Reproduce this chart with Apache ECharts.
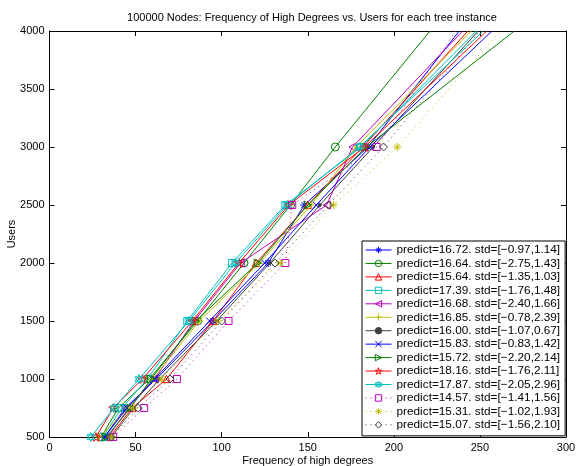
<!DOCTYPE html>
<html><head><meta charset="utf-8">
<script src="https://cdn.jsdelivr.net/npm/echarts@6/dist/echarts.min.js"></script>
<style>html,body{margin:0;padding:0;background:#fff}#c{width:576px;height:466px}</style>
</head><body><div id="c"></div>
<script>
// Users levels (y values); last level is where lines leave the plot
const users = [500, 750, 1000, 1500, 2000, 2500, 3000, 4000];
const xTicks = [0, 50, 100, 150, 200, 250, 300];
const yTicks = [500, 1000, 1500, 2000, 2500, 3000, 3500, 4000];
const names = [
  "predict=16.72. std=[\u22120.97,1.14]",
  "predict=16.64. std=[\u22122.75,1.43]",
  "predict=15.64. std=[\u22121.35,1.03]",
  "predict=17.39. std=[\u22121.76,1.48]",
  "predict=16.68. std=[\u22122.40,1.66]",
  "predict=16.85. std=[\u22120.78,2.39]",
  "predict=16.00. std=[\u22121.07,0.67]",
  "predict=15.83. std=[\u22120.83,1.42]",
  "predict=15.72. std=[\u22122.20,2.14]",
  "predict=18.16. std=[\u22121.76,2.11]",
  "predict=17.87. std=[\u22122.05,2.96]",
  "predict=14.57. std=[\u22121.41,1.56]",
  "predict=15.31. std=[\u22121.02,1.93]",
  "predict=15.07. std=[\u22121.56,2.10]"
];
// Frequency of high degrees for each series at each users level
const s1  = [32, 44, 62, 95, 127, 148, 185, 238];
const s2  = [30, 40, 58, 86, 113, 140, 166, 221];
const s3  = [35, 48, 68, 95, 120, 150, 182, 243];
const s4  = [31, 42, 57, 80, 106, 137, 181, 248];
const s5  = [34, 46, 61, 84, 111, 161, 176, 240];
const s6  = [29, 46, 60, 87, 122, 152, 178, 245];
const s7  = [36, 49, 64, 97, 128, 157, 188, 249];
const s8  = [32, 45, 61, 93, 125, 155, 186, 257];
const s9  = [33, 47, 59, 85, 121, 150, 184, 270];
const s10 = [27, 37, 54, 83, 110, 139, 183, 254];
const s11 = [24, 37.5, 52, 81, 108, 138, 180, 252];
const s12 = [37, 55, 74, 104, 137, 141, 190, 236];
const s13 = [36, 49, 65, 98, 134, 165, 202, 262];
const s14 = [36, 51.5, 70, 100, 131, 162, 194, 250];
const allSeries = [s1,s2,s3,s4,s5,s6,s7,s8,s9,s10,s11,s12,s13,s14];

const C = {b:'#0000ff', g:'#008000', r:'#ff0000', c:'#00bfbf', m:'#bf00bf', y:'#bfbf00', k:'#404040'};
function star(n, ro, ri){
  let p = '';
  for (let i = 0; i < 2*n; i++) {
    const a = -Math.PI/2 + i*Math.PI/n;
    const r = i % 2 ? ri : ro;
    p += (i ? 'L' : 'M') + (r*Math.cos(a)).toFixed(2) + ',' + (r*Math.sin(a)).toFixed(2);
  }
  return p + 'Z';
}
const P = {
  ast: 'path://M0,-5L0,5M-5,0L5,0M-3.5,-3.5L3.5,3.5M-3.5,3.5L3.5,-3.5',
  o: 'path://M5,0A5,5 0 1,1 -5,0A5,5 0 1,1 5,0Z',
  tri: 'path://M0,-5L5,4L-5,4Z',
  sq: 'path://M-4,-4L4,-4L4,4L-4,4Z',
  lt: 'path://M-5,0L4,-5L4,5Z',
  plus: 'path://M0,-5L0,5M-5,0L5,0',
  dot: 'circle',
  x: 'path://M-4,-4L4,4M-4,4L4,-4',
  rt: 'path://M5,0L-4,-5L-4,5Z',
  pent: 'path://' + star(5, 5, 2),
  hex: 'path://M0,-5L4.33,2.5L-4.33,2.5ZM0,5L4.33,-2.5L-4.33,-2.5Z',
  dia: 'path://M0,-5L5,0L0,5L-5,0Z'
};
const styles = [
  [C.b,'ast','solid',8],[C.g,'o','solid',8],[C.r,'tri','solid',8],[C.c,'sq','solid',7],
  [C.m,'lt','solid',8],[C.y,'plus','solid',8],[C.k,'dot','solid',3],[C.b,'x','solid',7],
  [C.g,'rt','solid',8],[C.r,'pent','solid',9],[C.c,'hex','solid',9],[C.m,'sq','dotted',7],
  [C.y,'ast','dotted',8],[C.k,'dia','dotted',8]
];

const series = allSeries.map((arr, i) => {
  const [col, sym, lt, sz] = styles[i];
  const filled = sym === 'dot';
  return {
    type: 'line', name: names[i],
    data: arr.map((x, j) => j === users.length - 1 ? {value:[x, users[j]], symbol:'none'} : [x, users[j]]),
    symbol: P[sym], symbolSize: sz, symbolKeepAspect: true, showAllSymbol: true,
    clip: true, animation: false, z: 2 + i,
    lineStyle: {color: col, width: 1, type: lt === 'dotted' ? [1, 4] : 'solid'},
    itemStyle: {color: filled ? col : 'none', borderColor: col, borderWidth: 1},
    emphasis: {disabled: true}
  };
});

const legendData = names.map((n, i) => {
  const [col, sym, lt] = styles[i];
  const filled = sym === 'dot';
  return {
    name: n,
    itemStyle: {color: filled ? col : 'none', borderColor: col, borderWidth: 1},
    lineStyle: {color: col, width: 1, type: lt === 'dotted' ? [1, 4] : 'solid'}
  };
});

const font = 'Liberation Sans, Arial, sans-serif';
const chart = echarts.init(document.getElementById('c'), null, {renderer: 'canvas'});
const axBase = {
  axisLine: {show: true, onZero: false, lineStyle: {color: '#000', width: 1}},
  axisTick: {show: true, inside: true, length: 5, lineStyle: {color: '#000'}},
  splitLine: {show: false}
};
const plain = v => String(v);
chart.setOption({
  backgroundColor: '#fff',
  animation: false,
  title: {
    text: '100000 Nodes: Frequency of High Degrees vs. Users for each tree instance',
    left: 307, top: 7, textAlign: 'center',
    textStyle: {fontFamily: font, fontSize: 11, fontWeight: 'normal', color: '#000'}
  },
  grid: {left: 49.5, right: 10, top: 31, bottom: 29, containLabel: false, outerBoundsMode: 'none'},
  xAxis: [
    Object.assign({type: 'value', min: xTicks[0], max: xTicks[xTicks.length-1], interval: 50, position: 'bottom',
      name: 'Frequency of high degrees', nameLocation: 'middle', nameGap: 18, nameMoveOverlap: false,
      nameTextStyle: {fontFamily: font, fontSize: 11, color: '#000'},
      axisLabel: {fontFamily: font, fontSize: 11, color: '#000', margin: 5, formatter: plain}}, axBase),
    Object.assign({type: 'value', min: xTicks[0], max: xTicks[xTicks.length-1], interval: 50, position: 'top',
      axisLabel: {show: false}}, axBase)
  ],
  yAxis: [
    Object.assign({type: 'value', min: yTicks[0], max: yTicks[yTicks.length-1], interval: 500, position: 'left',
      name: 'Users', nameLocation: 'middle', nameGap: 32, nameRotate: 90, nameMoveOverlap: false,
      nameTextStyle: {fontFamily: font, fontSize: 11, color: '#000'},
      axisLabel: {fontFamily: font, fontSize: 11, color: '#000', margin: 5, formatter: plain}}, axBase),
    Object.assign({type: 'value', min: yTicks[0], max: yTicks[yTicks.length-1], interval: 500, position: 'right',
      axisLabel: {show: false}}, axBase)
  ],
  legend: {
    orient: 'vertical', left: 362, top: 241,
    backgroundColor: '#fff', borderColor: '#000', borderWidth: 1,
    padding: [3, 5, 5, 3], itemWidth: 26, itemHeight: 8, itemGap: 1.45,
    textStyle: {fontFamily: font, fontSize: 11.8, color: '#000', lineHeight: 12},
    selectedMode: false,
    data: legendData
  },
  series: series
});
</script></body></html>
